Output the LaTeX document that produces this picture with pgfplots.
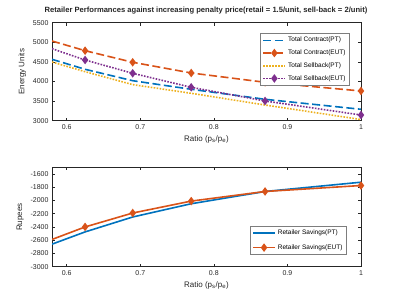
\documentclass[border=0pt]{standalone}
\usepackage{fontspec}
\setmainfont{Liberation Sans}
\usepackage{pgfplots}
\pgfplotsset{compat=1.18}
\definecolor{mblue}{rgb}{0,0.447,0.741}
\definecolor{morange}{rgb}{0.85,0.325,0.098}
\definecolor{myellow}{rgb}{0.929,0.694,0.125}
\definecolor{mpurple}{rgb}{0.494,0.184,0.556}
\definecolor{mgray}{rgb}{0.15,0.15,0.15}
\pgfplotsset{
  mstyle/.style={
    scale only axis, width=309pt,
    xmin=0.58, xmax=1,
    xtick={0.6,0.7,0.8,0.9,1}, xticklabels={0.6,0.7,0.8,0.9,1},
    tick align=inside, tick pos=both, major tick length=3pt,
    axis line style={mgray, line width=0.8pt},
    every tick/.style={mgray, line width=0.6pt},
    tick label style={font=\fontsize{7}{8}\selectfont, text=mgray},
    label style={font=\fontsize{8}{9}\selectfont, text=mgray},
    /pgf/number format/assume math mode=true,
    scaled ticks=false,
    xlabel={Ratio (p\textsubscript{s}/p\textsubscript{e})},
    legend cell align=left,
    legend style={font=\fontsize{6.5}{7}\selectfont, draw=mgray!60, line width=0.5pt, inner sep=2pt, row sep=2.5pt},
    legend image code/.code={\draw[mark repeat=2, mark phase=2, ##1] plot coordinates {(0pt,0pt) (11pt,0pt) (22pt,0pt)};},
  }
}
\begin{document}
\begin{tikzpicture}
\useasboundingbox (0,0) rectangle (399pt,299pt);
\node[font=\bfseries\fontsize{7.6}{8}\selectfont, text=mgray] at (206pt,288.5pt) {Retailer Performances against increasing penalty price(retail = 1.5/unit, sell-back = 2/unit)};
\begin{axis}[mstyle, at={(52pt,178.3pt)}, anchor=south west, height=98pt,
  ymin=3000, ymax=5500, ytick={3000,3500,...,5500},
  yticklabels={3000,3500,4000,4500,5000,5500},
  ylabel={Energy Units},
  legend style={at={(0.964,0.895)}, anchor=north east}]
\addplot[mblue, line width=1.6pt, dash pattern=on 8pt off 3.5pt] coordinates {
(0.58,4566) (0.625,4311) (0.6897,4020) (0.7692,3801) (0.8696,3546) (1.0,3291)};
\addlegendentry{Total Contract(PT)}
\addplot[morange, line width=1.6pt, dash pattern=on 8pt off 3.5pt, mark=diamond*, mark size=3pt, mark options={solid}, mark phase=2] coordinates {
(0.58,5033) (0.625,4786) (0.6897,4490) (0.7692,4217) (0.8696,3980) (1.0,3758)};
\addlegendentry{Total Contract(EUT)}
\addplot[myellow, line width=1.6pt, dash pattern=on 1.6pt off 1.4pt] coordinates {
(0.58,4497) (0.625,4250) (0.6897,3920) (0.7692,3699) (0.8696,3400) (1.0,3030)};
\addlegendentry{Total Sellback(PT)}
\addplot[mpurple, line width=1.6pt, dash pattern=on 1.6pt off 1.4pt, mark=diamond*, mark size=3pt, mark options={solid}, mark phase=2] coordinates {
(0.58,4837) (0.625,4548) (0.6897,4209) (0.7692,3852) (0.8696,3503) (1.0,3145)};
\addlegendentry{Total Sellback(EUT)}
\end{axis}
\begin{axis}[mstyle, at={(52pt,32.3pt)}, anchor=south west, height=99.4pt,
  ymin=-3000, ymax=-1500, ytick={-3000,-2800,...,-1600},
  yticklabels={-3000,-2800,-2600,-2400,-2200,-2000,-1800,-1600},
  ylabel={Rupees},
  legend style={at={(0.954,0.118)}, anchor=south east, row sep=4.5pt}]
\addplot[color=mblue, line width=1.6pt, solid] coordinates {
(0.58,-2660) (0.625,-2475) (0.6897,-2250) (0.7692,-2050) (0.8696,-1865) (1.0,-1725)};
\addlegendentry{Retailer Savings(PT)}
\addplot[color=morange, line width=1.6pt, solid, mark=diamond*, mark size=3pt, mark phase=2] coordinates {
(0.58,-2589) (0.625,-2400) (0.6897,-2190) (0.7692,-2010) (0.8696,-1865) (1.0,-1775)};
\addlegendentry{Retailer Savings(EUT)}
\end{axis}
\end{tikzpicture}
\end{document}
